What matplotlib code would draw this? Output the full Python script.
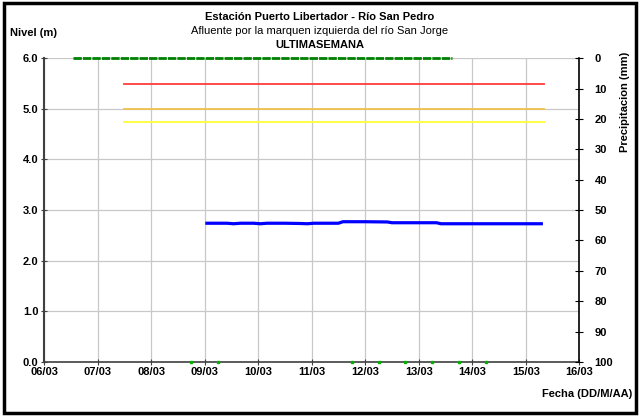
import numpy as np
import pandas as pd
import matplotlib
matplotlib.use("Agg")
import matplotlib.pyplot as plt
import matplotlib.dates as mdates
from matplotlib.patches import Rectangle

plt.rcParams['font.family'] = ['Liberation Sans', 'DejaVu Sans']

# --- DATOS ---
# Nivel (m), lectura aproximada del grafico
nivel_fechas = ['2015-03-09 01:00', '2015-03-09 10:00', '2015-03-09 13:00', '2015-03-09 16:00',
                '2015-03-09 22:00', '2015-03-10 01:00', '2015-03-10 04:00', '2015-03-10 12:00',
                '2015-03-10 19:00', '2015-03-10 22:00', '2015-03-11 01:00', '2015-03-11 12:00',
                '2015-03-11 14:00', '2015-03-12 00:00', '2015-03-12 10:00', '2015-03-12 12:00',
                '2015-03-13 08:00', '2015-03-13 10:00', '2015-03-14 12:00', '2015-03-15 07:00']
nivel_valores = [2.74, 2.74, 2.73, 2.74, 2.74, 2.73, 2.74, 2.74,
                 2.735, 2.73, 2.74, 2.74, 2.77, 2.77, 2.765, 2.75,
                 2.75, 2.73, 2.73, 2.73]

# Umbrales de alerta (m)
umbral_inicio = '2015-03-07 12:00'
umbral_fin = '2015-03-15 08:00'
umbral_rojo = 5.5
umbral_naranja = 5.0
umbral_amarillo = 4.75

# Precipitacion (mm) - todo cero en la semana
precip_fechas = pd.date_range('2015-03-06 13:00', '2015-03-13 15:00', freq='2h')
precip_valores = [0.0] * len(precip_fechas)

# Puntos verdes sobre el eje de nivel 0
puntos_fechas = ['2015-03-08 18:00', '2015-03-09 06:00', '2015-03-11 18:00', '2015-03-12 06:00',
                 '2015-03-12 18:00', '2015-03-13 06:00', '2015-03-13 18:00', '2015-03-14 06:00']
puntos_valores = [0.0] * len(puntos_fechas)

nivel_ticks = [0.0, 1.0, 2.0, 3.0, 4.0, 5.0, 6.0]
precip_ticks = [0, 10, 20, 30, 40, 50, 60, 70, 80, 90, 100]

# --- GRAFICO ---
fig = plt.figure(figsize=(6.4, 4.16), dpi=100)
ax = fig.add_axes([0.069, 0.130, 0.836, 0.730])

t_ini = pd.Timestamp(umbral_inicio)
t_fin = pd.Timestamp(umbral_fin)
ax.plot([t_ini, t_fin], [umbral_rojo] * 2, color='#ff3b3b', lw=1.3, zorder=3)
ax.plot([t_ini, t_fin], [umbral_naranja] * 2, color='#f0c24a', lw=1.3, zorder=3)
ax.plot([t_ini, t_fin], [umbral_amarillo] * 2, color='#ffff33', lw=1.3, zorder=3)

ax.plot(pd.to_datetime(nivel_fechas), nivel_valores, color='#0000ff', lw=2.3, zorder=4)
ax.plot(pd.to_datetime(puntos_fechas), puntos_valores, ls='none', marker='s', ms=1.5,
        color='#00b000', zorder=5, clip_on=False)

ax.set_xlim(pd.Timestamp('2015-03-06'), pd.Timestamp('2015-03-16'))
ax.set_ylim(0, 6)
ax.set_yticks(nivel_ticks)
ax.set_yticklabels([f"{v:.1f}" for v in nivel_ticks])
ax.xaxis.set_major_locator(mdates.DayLocator())
ax.xaxis.set_major_formatter(mdates.DateFormatter('%d/%m'))
ax.grid(True, color='#c8c8c8', lw=0.9)
ax.set_axisbelow(True)

for lab in ax.get_xticklabels() + ax.get_yticklabels():
    lab.set_fontweight('bold')
ax.tick_params(axis='both', labelsize=8, direction='inout', length=4, color='#404040', pad=2)
ax.spines['top'].set_visible(False)
ax.spines['right'].set_visible(False)
ax.spines['left'].set_color('#404040')
ax.spines['left'].set_linewidth(1.5)
ax.spines['bottom'].set_color('#404040')
ax.spines['bottom'].set_linewidth(1.2)

# eje de precipitacion invertido
ax2 = ax.twinx()
ax2.plot(precip_fechas, precip_valores, color='#008000', lw=2.0, ls=(0, (3, 0.4)),
         zorder=5, clip_on=False)
ax2.set_ylim(100, 0)
ax2.set_yticks(precip_ticks)
ax2.tick_params(axis='y', labelsize=8, direction='inout', length=6, color='black', pad=8)
for lab in ax2.get_yticklabels():
    lab.set_fontweight('bold')
for s in ['top', 'left', 'bottom']:
    ax2.spines[s].set_visible(False)
ax2.spines['right'].set_color('black')
ax2.spines['right'].set_linewidth(1.2)

# textos
fig.text(0.5, 0.958, 'Estación Puerto Libertador - Río San Pedro', ha='center', va='center',
         fontsize=8, fontweight='bold')
fig.text(0.5, 0.925, 'Afluente por la marquen izquierda del río San Jorge', ha='center',
         va='center', fontsize=8)
fig.text(0.5, 0.892, 'ULTIMASEMANA', ha='center', va='center', fontsize=8, fontweight='bold')
fig.text(0.016, 0.921, 'Nivel (m)', ha='left', va='center', fontsize=8, fontweight='bold')
fig.text(0.988, 0.053, 'Fecha (DD/M/AA)', ha='right', va='center', fontsize=8, fontweight='bold')
fig.text(0.977, 0.755, 'Precipitacion (mm)', ha='center', va='center', rotation=90,
         fontsize=8, fontweight='bold')

# marco negro
fig.patches.append(Rectangle((0.006, 0.008), 0.988, 0.984, transform=fig.transFigure,
                             fill=False, edgecolor='black', lw=2.5))

fig.savefig('out.png', dpi=100)
